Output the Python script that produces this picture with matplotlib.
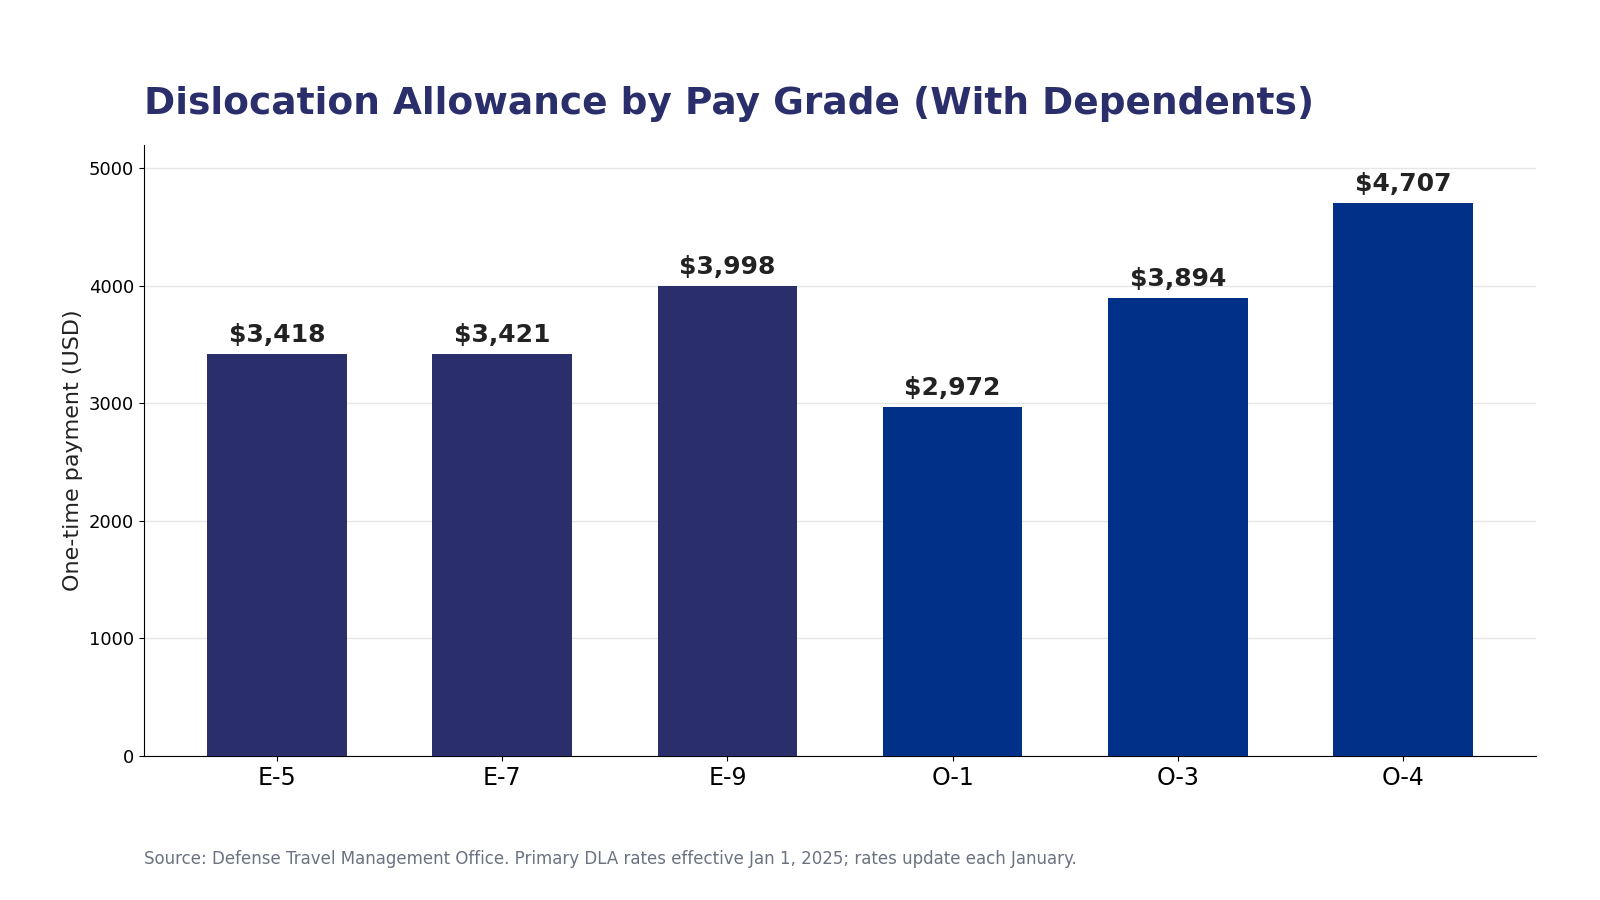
import matplotlib.pyplot as plt

plt.rcParams['font.family'] = ['DejaVu Sans']

# Dislocation allowance, with dependents
grades = ['E-5', 'E-7', 'E-9', 'O-1', 'O-3', 'O-4']
pagos = [3418, 3421, 3998, 2972, 3894, 4707]
colores = ['#2a2e6b', '#2a2e6b', '#2a2e6b', '#003087', '#003087', '#003087']

fig = plt.figure(figsize=(16, 9), dpi=100)
ax = fig.add_axes([0.09, 0.16, 0.87, 0.679])

barras = ax.bar(grades, pagos, width=0.62, color=colores, zorder=3)
for b, v in zip(barras, pagos):
    ax.text(b.get_x() + b.get_width() / 2, v + 60, f'${v:,}',
            ha='center', va='bottom', fontsize=18, fontweight='bold', color='#222222')

ax.set_ylim(0, 5200)
ax.set_yticks([0, 1000, 2000, 3000, 4000, 5000])
ax.tick_params(axis='y', labelsize=13)
ax.tick_params(axis='x', labelsize=17)
ax.set_ylabel('One-time payment (USD)', fontsize=16, color='#222222')
ax.grid(axis='y', color='#e6e6e6', linewidth=1, zorder=0)
ax.spines['top'].set_visible(False)
ax.spines['right'].set_visible(False)

fig.text(0.09, 0.885, 'Dislocation Allowance by Pay Grade (With Dependents)',
         fontsize=27, fontweight='bold', color='#2a2e6b', va='center')
fig.text(0.09, 0.046, 'Source: Defense Travel Management Office. Primary DLA rates effective Jan 1, 2025; rates update each January.',
         fontsize=12, color='#6b7280', va='center')

fig.savefig('out.png', dpi=100)
